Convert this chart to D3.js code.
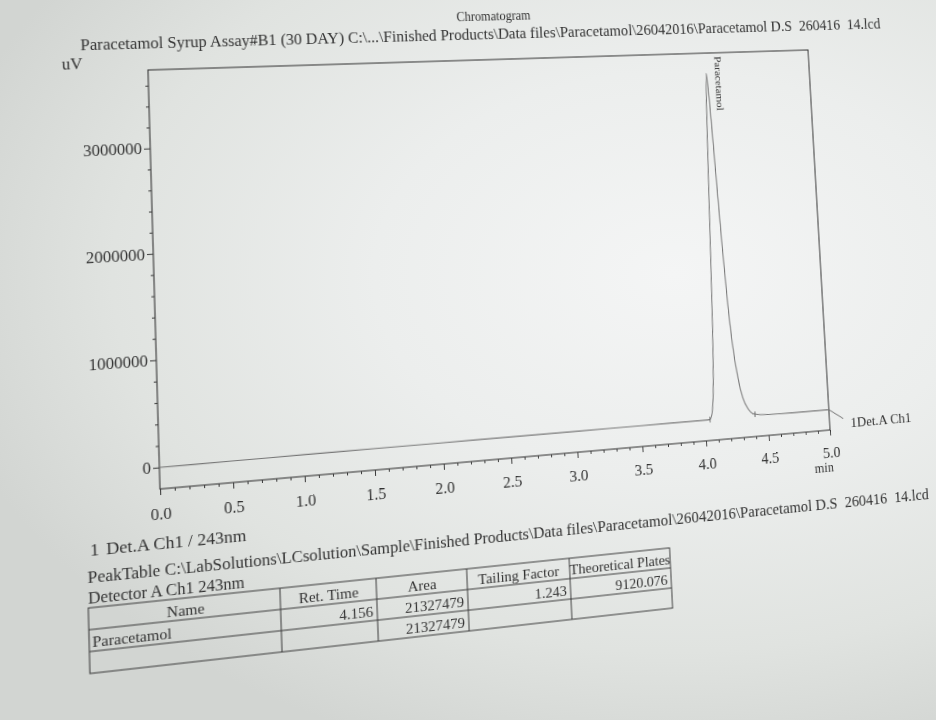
<!DOCTYPE html>
<html>
<head>
<meta charset="utf-8">
<script src="https://cdn.jsdelivr.net/npm/d3@7"></script>
<style>
  html, body { margin: 0; padding: 0; width: 936px; height: 720px; overflow: hidden; }
  body {
    background:
      radial-gradient(ellipse 80% 70% at 72% 38%, #f4f5f5 0%, #eceeed 40%, #e0e3e0 75%, #d2d5d2 100%);
  }
  #sheet { position: absolute; left: 0; top: 0; width: 1000px; height: 800px; transform-origin: 0 0; }
  svg text { font-family: "Liberation Serif", "Times New Roman", serif; fill: #333; }
</style>
</head>
<body>
<div id="sheet"></div>
<script>
// ---- chromatogram trace (retention time in min, detector signal in uV) ----
const traceTime   = [0.00, 0.50, 1.00, 1.50, 2.00, 2.50, 3.00, 3.50, 3.90, 4.00, 4.04, 4.06, 4.08, 4.10, 4.12, 4.14, 4.156,
                     4.17, 4.19, 4.21, 4.23, 4.25, 4.28, 4.31, 4.35, 4.40, 4.50, 4.70, 5.00];
const traceSignal = [0, 2000, 3000, 4000, 5000, 6000, 6000, 7000, 8000, 8000, 10000, 80000, 350000, 1000000, 2000000, 3000000, 3540000,
                     3250000, 2500000, 1750000, 1150000, 750000, 400000, 200000, 80000, 25000, 12000, 8000, 8000];

// ---- axes ----
const xTicks = [0.0, 0.5, 1.0, 1.5, 2.0, 2.5, 3.0, 3.5, 4.0, 4.5, 5.0];
const yTicks = [0, 1000000, 2000000, 3000000];
const xDomain = [0, 5];
const yDomain = [-200000, 3750000];

// ---- peaks ----
const peakNames  = ["Paracetamol"];
const peakTimes  = [4.156];
const peakStarts = [4.04];
const peakEnds   = [4.40];

// ---- text ----
const chartTitle = "Chromatogram";
const fileLine   = "Paracetamol Syrup Assay#B1 (30 DAY) C:\\...\\Finished Products\\Data files\\Paracetamol\\26042016\\Paracetamol D.S  260416  14.lcd";
const yUnit      = "uV";
const xUnit      = "min";
const traceName  = "1Det.A Ch1";
const sectionNo  = "1";
const sectionTitle = "Det.A Ch1 / 243nm";
const peakTableLine = "PeakTable C:\\LabSolutions\\LCsolution\\Sample\\Finished Products\\Data files\\Paracetamol\\26042016\\Paracetamol D.S  260416  14.lcd";
const detectorLine  = "Detector A Ch1 243nm";

// ---- peak table ----
const tableHeader = ["Name", "Ret. Time", "Area", "Tailing Factor", "Theoretical Plates"];
const tableRows = [
  ["Paracetamol", "4.156", "21327479", "1.243", "9120.076"],
  ["", "", "21327479", "", ""]
];
const tableAlign = ["start", "end", "end", "end", "end"];

// ---------------------------------------------------------------------------
// The printed sheet is laid out flat, then the whole sheet is tilted with a
// projective (4-corner) transform, as seen by a camera held at an angle.
const frame = { left: 150, top: 70, right: 850, bottom: 490 };
const frameCornersOnPage = [[148, 70], [808, 50], [830, 430], [160, 489]];

function solve(A, b) {
  const n = b.length;
  const M = A.map((r, i) => r.concat([b[i]]));
  for (let c = 0; c < n; c++) {
    let p = c;
    for (let r = c + 1; r < n; r++) if (Math.abs(M[r][c]) > Math.abs(M[p][c])) p = r;
    [M[c], M[p]] = [M[p], M[c]];
    for (let r = 0; r < n; r++) {
      if (r === c) continue;
      const f = M[r][c] / M[c][c];
      for (let k = c; k <= n; k++) M[r][k] -= f * M[c][k];
    }
  }
  return M.map((r, i) => r[n] / r[i]);
}
function projective(src, dst) {
  const A = [], b = [];
  for (let i = 0; i < 4; i++) {
    const [X, Y] = src[i], [u, v] = dst[i];
    A.push([X, Y, 1, 0, 0, 0, -u * X, -u * Y]); b.push(u);
    A.push([0, 0, 0, X, Y, 1, -v * X, -v * Y]); b.push(v);
  }
  const h = solve(A, b);
  return `matrix3d(${h[0]},${h[3]},0,${h[6]},${h[1]},${h[4]},0,${h[7]},0,0,1,0,${h[2]},${h[5]},0,1)`;
}
const flatCorners = [[frame.left, frame.top], [frame.right, frame.top], [frame.right, frame.bottom], [frame.left, frame.bottom]];
d3.select("#sheet").style("transform", projective(flatCorners, frameCornersOnPage));

// ---------------------------------------------------------------------------
const svg = d3.select("#sheet").append("svg")
  .attr("width", 1000).attr("height", 800)
  .style("overflow", "visible");

const x = d3.scaleLinear().domain(xDomain).range([frame.left, frame.right]);
const y = d3.scaleLinear().domain(yDomain).range([frame.bottom, frame.top]);

const ink = "#3a3a3a";

// header lines
svg.append("text").attr("x", 502).attr("y", 28).attr("text-anchor", "middle")
  .attr("font-size", 14).attr("textLength", 79).attr("lengthAdjust", "spacingAndGlyphs")
  .text(chartTitle);
svg.append("text").attr("x", 86).attr("y", 48).attr("font-size", 16)
  .attr("textLength", 851).attr("lengthAdjust", "spacingAndGlyphs")
  .attr("xml:space", "preserve").text(fileLine);
svg.append("text").attr("x", 68).attr("y", 67).attr("font-size", 16).text(yUnit);

// plot frame
svg.append("rect")
  .attr("x", frame.left).attr("y", frame.top)
  .attr("width", frame.right - frame.left).attr("height", frame.bottom - frame.top)
  .attr("fill", "none").attr("stroke", ink).attr("stroke-width", 1.1);

// y axis: major + minor ticks
const yMinor = d3.range(0, yDomain[1], 200000).filter(v => !yTicks.includes(v));
svg.append("g").attr("transform", `translate(${frame.left},0)`)
  .call(d3.axisLeft(y).tickValues(yTicks).tickSize(6).tickPadding(2).tickFormat(d3.format("d")));
svg.append("g").attr("transform", `translate(${frame.left},0)`)
  .call(d3.axisLeft(y).tickValues(yMinor).tickSize(3).tickFormat(""));

// x axis: major + minor ticks
const xMinor = d3.range(0, 50).map(i => i / 10).filter(v => Math.abs(v * 2 - Math.round(v * 2)) > 1e-6);
svg.append("g").attr("transform", `translate(0,${frame.bottom})`)
  .call(d3.axisBottom(x).tickValues(xTicks).tickSize(6).tickPadding(13).tickFormat(d3.format(".1f")));
svg.append("g").attr("transform", `translate(0,${frame.bottom})`)
  .call(d3.axisBottom(x).tickValues(xMinor).tickSize(3).tickFormat(""));

svg.selectAll(".domain").remove();
svg.selectAll(".tick line").attr("stroke", ink);
svg.selectAll(".tick text").attr("font-size", 16).attr("font-family", "Liberation Serif").attr("fill", "#333");

svg.append("text").attr("x", x(5) - 9).attr("y", frame.bottom + 45).attr("text-anchor", "middle")
  .attr("font-size", 14).text(xUnit);

// trace
const pts = traceTime.map((t, i) => [t, traceSignal[i]]);
svg.append("path").datum(pts)
  .attr("fill", "none").attr("stroke", "#777").attr("stroke-width", 1.1)
  .attr("d", d3.line().x(d => x(d[0])).y(d => y(d[1])).curve(d3.curveMonotoneX));

// peak start / end marks on the trace
const signalAt = t => {
  const i = d3.bisectLeft(traceTime, t);
  if (i <= 0) return traceSignal[0];
  const t0 = traceTime[i - 1], t1 = traceTime[i];
  return traceSignal[i - 1] + (traceSignal[i] - traceSignal[i - 1]) * (t - t0) / (t1 - t0);
};
svg.selectAll(".pk-mark").data(peakStarts.concat(peakEnds)).join("line")
  .attr("x1", d => x(d)).attr("x2", d => x(d))
  .attr("y1", d => y(signalAt(d)) - 3).attr("y2", d => y(signalAt(d)) + 3)
  .attr("stroke", "#666").attr("stroke-width", 1);

// peak names, printed vertically at the retention time
svg.selectAll(".pk-name").data(peakNames).join("text")
  .attr("transform", (d, i) => `translate(${x(peakTimes[i]) + 10},${frame.top + 4}) rotate(90)`)
  .attr("font-size", 11).attr("textLength", 60).attr("lengthAdjust", "spacingAndGlyphs")
  .text(d => d);

// trace name with its leader line
const endY = y(traceSignal[traceSignal.length - 1]);
svg.append("path")
  .attr("d", `M${x(5)},${endY} L${x(5) + 16},${endY + 11}`)
  .attr("fill", "none").attr("stroke", "#666").attr("stroke-width", 1);
svg.append("text").attr("x", x(5) + 24).attr("y", endY + 21).attr("font-size", 14)
  .attr("textLength", 71).attr("lengthAdjust", "spacingAndGlyphs").text(traceName);

// section heading and peak table
svg.append("text").attr("x", 83).attr("y", 549).attr("font-size", 17).text(sectionNo);
svg.append("text").attr("x", 98).attr("y", 549).attr("font-size", 17).text(sectionTitle);
svg.append("text").attr("x", 80).attr("y", 575).attr("font-size", 16)
  .attr("textLength", 880).attr("lengthAdjust", "spacingAndGlyphs")
  .attr("xml:space", "preserve").text(peakTableLine);
svg.append("text").attr("x", 80).attr("y", 595).attr("font-size", 16).text(detectorLine);

const colEdges = [80, 262, 357, 449, 556, 664];
const rowTop = 599, rowH = 21, nRows = 1 + tableRows.length;
const table = svg.append("g");
table.append("rect").attr("x", colEdges[0]).attr("y", rowTop)
  .attr("width", colEdges[5] - colEdges[0]).attr("height", rowH * nRows)
  .attr("fill", "none").attr("stroke", ink).attr("stroke-width", 1);
table.selectAll(".hl").data(d3.range(1, nRows)).join("line")
  .attr("x1", colEdges[0]).attr("x2", colEdges[5])
  .attr("y1", d => rowTop + d * rowH).attr("y2", d => rowTop + d * rowH)
  .attr("stroke", ink).attr("stroke-width", 1);
table.selectAll(".vl").data(colEdges.slice(1, 5)).join("line")
  .attr("x1", d => d).attr("x2", d => d)
  .attr("y1", rowTop).attr("y2", rowTop + rowH * nRows)
  .attr("stroke", ink).attr("stroke-width", 1);

table.selectAll(".th").data(tableHeader).join("text")
  .attr("x", (d, i) => (colEdges[i] + colEdges[i + 1]) / 2)
  .attr("y", rowTop + rowH - 4).attr("text-anchor", "middle").attr("font-size", 15)
  .text(d => d);
tableRows.forEach((row, r) => {
  table.selectAll(".td" + r).data(row).join("text")
    .attr("x", (d, i) => tableAlign[i] === "start" ? colEdges[i] + 3 : colEdges[i + 1] - 4)
    .attr("y", rowTop + (r + 2) * rowH - 4)
    .attr("text-anchor", (d, i) => tableAlign[i])
    .attr("font-size", 15)
    .text(d => d);
});
</script>
</body>
</html>
